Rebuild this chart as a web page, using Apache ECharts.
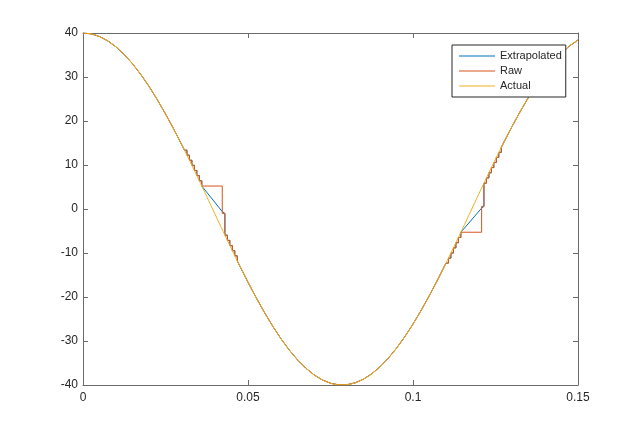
<!DOCTYPE html>
<html>
<head>
<meta charset="utf-8">
<script src="https://cdn.jsdelivr.net/npm/echarts@6/dist/echarts.min.js"></script>
<style>
html,body{margin:0;padding:0;background:#fff;}
#chart{width:640px;height:433px;}
</style>
</head>
<body>
<div id="chart"></div>
<script>
// ---- data ----
const timePoints = [0,0.0025,0.005,0.0075,0.01,0.0125,0.015,0.0175,0.02,0.0225,0.025,0.0275,0.03,0.0325,0.035,0.0375,0.04,0.0425,0.045,0.0475,0.05,0.0525,0.055,0.0575,0.06,0.0625,0.065,0.0675,0.07,0.0725,0.075,0.0775,0.08,0.0825,0.085,0.0875,0.09,0.0925,0.095,0.0975,0.1,0.1025,0.105,0.1075,0.11,0.1125,0.115,0.1175,0.12,0.1225,0.125,0.1275,0.13,0.1325,0.135,0.1375,0.14,0.1425,0.145,0.1475,0.15];
const actualValues = [40,39.8,39.2,38.21,36.84,35.1,33.01,30.59,27.87,24.86,21.61,18.14,14.49,10.7,6.8,2.83,-1.17,-5.15,-9.09,-12.93,-16.65,-20.19,-23.54,-26.65,-29.5,-32.05,-34.28,-36.16,-37.69,-38.84,-39.6,-39.97,-39.93,-39.5,-38.67,-37.46,-35.87,-33.92,-31.64,-29.04,-26.15,-22.99,-19.61,-16.03,-12.29,-8.43,-4.49,-0.5,3.5,7.46,11.35,15.12,18.74,22.17,25.39,28.35,31.02,33.39,35.42,37.1,38.41];

// Raw samples (held until the next sample) around the two zero crossings
const glitch1Times = [0.03075,0.0315,0.03225,0.033,0.03375,0.0345,0.03525,0.036,0.0422,0.043,0.04375,0.0445,0.04525,0.046,0.04675];
const glitch1Raw   = [13.37,12.23,11.08,9.93,8.76,7.59,6.4,5.22,-1.0,-5.95,-7.13,-8.31,-9.48,-10.64,-11.79];
const glitch2Times = [0.11,0.11075,0.1115,0.11225,0.113,0.11375,0.1145,0.1208,0.1215,0.12225,0.123,0.12375,0.1245,0.12525,0.126,0.12675];
const glitch2Raw   = [-12.29,-11.16,-10.0,-8.83,-7.66,-6.47,-5.28,0.6,5.88,7.07,8.24,9.41,10.57,11.73,12.87,14.01];

// Extrapolated bridges over the dropouts: [start time, end time], [start value, end value]
const bridge1Times = [0.036, 0.0422];
const bridge1Values = [5.22, -0.6];
const bridge2Times = [0.1145, 0.1208];
const bridge2Values = [-5.28, 0.2];

const xTickLabels = ['0','0.05','0.1','0.15'];
const seriesNames = ['Extrapolated','Raw','Actual'];

// ---- build series data ----
function pairs(ts, vs){ return ts.map((t,i)=>[t, vs[i]]); }
function actualRange(lo, hi){
  return pairs(timePoints, actualValues).filter(p => p[0] >= lo - 1e-9 && p[0] <= hi + 1e-9);
}
function holdSeries(ts, vs, bridgeT, bridgeV){
  const out = [];
  for (let i = 0; i < ts.length; i++){
    out.push([ts[i], vs[i]]);
    if (i < ts.length - 1){
      if (bridgeT && Math.abs(ts[i] - bridgeT[0]) < 1e-9){
        out.push([bridgeT[1], bridgeV[1]]);
      } else {
        out.push([ts[i+1], vs[i]]);
      }
    }
  }
  return out;
}
const actualData = pairs(timePoints, actualValues);
const rawData = [].concat(
  actualRange(0,0.03), holdSeries(glitch1Times, glitch1Raw),
  actualRange(0.0475,0.1075), holdSeries(glitch2Times, glitch2Raw),
  actualRange(0.1275,0.15));
const extrapData = [].concat(
  actualRange(0,0.03), holdSeries(glitch1Times, glitch1Raw, bridge1Times, bridge1Values),
  actualRange(0.0475,0.1075), holdSeries(glitch2Times, glitch2Raw, bridge2Times, bridge2Values),
  actualRange(0.1275,0.15));

const axisColor = '#6b6b6b';
const textColor = '#262626';
const font = 'Liberation Sans, Arial, Helvetica, sans-serif';

const chart = echarts.init(document.getElementById('chart'), null, {renderer:'canvas'});
const xCommon = {
  type:'value', min:0, max:0.15, interval:0.05,
  axisLine:{show:true, onZero:false, lineStyle:{color:axisColor, width:1}},
  axisTick:{show:true, inside:true, length:5, lineStyle:{color:axisColor}},
  splitLine:{show:false}
};
const yCommon = {
  type:'value', min:-40, max:40, interval:10,
  axisLine:{show:true, onZero:false, lineStyle:{color:axisColor, width:1}},
  axisTick:{show:true, inside:true, length:5, lineStyle:{color:axisColor}},
  splitLine:{show:false}
};
chart.setOption({
  animation:false,
  backgroundColor:'#ffffff',
  grid:{left:83, right:62, top:33, bottom:48, containLabel:false},
  legend:{
    show:true, orient:'vertical', left:452, top:45,
    data:seriesNames, icon:'rect', itemWidth:36, itemHeight:1.2, itemGap:1,
    padding:[4,4,4,7],
    backgroundColor:'#ffffff', borderColor:'#262626', borderWidth:1, borderRadius:0,
    textStyle:{fontFamily:font, fontSize:11, color:textColor, lineHeight:14, padding:[0,0,0,0]},
    selectedMode:false
  },
  xAxis:[
    Object.assign({}, xCommon, {position:'bottom',
      axisLabel:{show:true, margin:7, color:textColor, fontFamily:font, fontSize:12,
        formatter:function(v){ const i = Math.round(v/0.05); return xTickLabels[i] !== undefined ? xTickLabels[i] : ''; }}}),
    Object.assign({}, xCommon, {position:'top', axisLabel:{show:false}})
  ],
  yAxis:[
    Object.assign({}, yCommon, {position:'left',
      axisLabel:{show:true, margin:5, color:textColor, fontFamily:font, fontSize:12}}),
    Object.assign({}, yCommon, {position:'right', axisLabel:{show:false}})
  ],
  series:[
    {name:seriesNames[0], type:'line', data:extrapData, symbol:'none', xAxisIndex:0, yAxisIndex:0,
      itemStyle:{color:'#0072BD'}, lineStyle:{color:'#0072BD', width:1}},
    {name:seriesNames[1], type:'line', data:rawData, symbol:'none', xAxisIndex:0, yAxisIndex:0,
      itemStyle:{color:'#D95319'}, lineStyle:{color:'#D95319', width:1}},
    {name:seriesNames[2], type:'line', data:actualData, symbol:'none', smooth:0.3, xAxisIndex:0, yAxisIndex:0,
      itemStyle:{color:'#EDB120'}, lineStyle:{color:'#EDB120', width:1}}
  ]
});
</script>
</body>
</html>
